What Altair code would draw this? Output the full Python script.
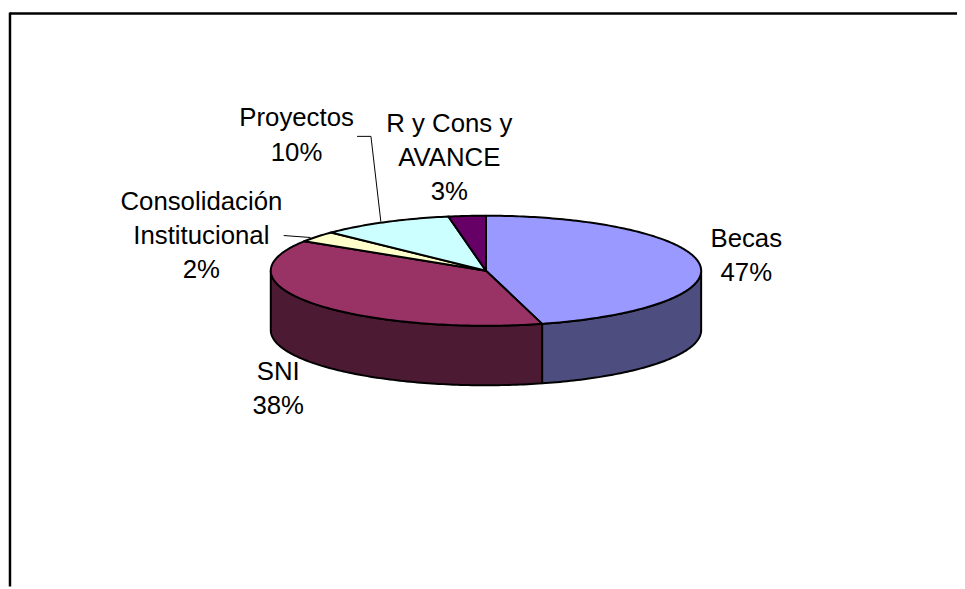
import math
import altair as alt
import pandas as pd

# Slices, clockwise from 12 o'clock, shares
slices = ["Becas", "SNI", "Consolidación Institucional", "Proyectos", "R y Cons y AVANCE"]
shares = [45.8, 38.2, 3.2, 10.0, 2.8]
top_colors = ["#9999FF", "#993366", "#FFFFCC", "#CCFFFF", "#660066"]
side_colors = ["#4D4D80", "#4D1A33", "#80805F", "#608080", "#330033"]

# Label lines: text, centre x, baseline y on the page
label_text = ["Proyectos", "10%", "R y Cons y", "AVANCE", "3%", "Consolidación",
              "Institucional", "2%", "SNI", "38%", "Becas", "47%"]
label_x = [299, 299, 453, 453, 453, 203, 203, 203, 280.5, 280.5, 752.5, 752.5]
label_y = [125, 159.5, 131, 165, 199.5, 209.5, 244, 277.5, 381, 415, 247, 281]

# Layout (page pixels)
PAGE_W, PAGE_H, MARGIN = 965, 589, 8
VIEW_W, VIEW_H = PAGE_W - MARGIN, PAGE_H - MARGIN
CX, CY, RX, RY, DEPTH = 490.0, 270.5, 217.0, 55.5, 60.0

x_scale = alt.Scale(domain=[(MARGIN - CX) / RX, (MARGIN + VIEW_W - CX) / RX], range=[0, VIEW_W],
                    nice=False, zero=False)
y_scale = alt.Scale(domain=[(CY - MARGIN) / RY, (CY - MARGIN - VIEW_H) / RY], range=[0, VIEW_H],
                    nice=False, zero=False)
depth_units = DEPTH / RY


def arc(a0, a1, dy=0.0):
    n = max(2, int(abs(a1 - a0)) + 1)
    pts = []
    for k in range(n + 1):
        t = math.radians(a0 + (a1 - a0) * k / n)
        pts.append((math.sin(t), math.cos(t) + dy))
    return pts


def shape(points, color, stroke_width=2):
    df = pd.DataFrame({"x": [p[0] for p in points], "y": [p[1] for p in points],
                       "i": list(range(len(points)))})
    return alt.Chart(df).mark_line(fill=color, stroke="black", strokeWidth=stroke_width,
                                   interpolate="linear-closed", strokeJoin="round").encode(
        x=alt.X("x:Q", scale=x_scale, axis=None),
        y=alt.Y("y:Q", scale=y_scale, axis=None),
        order="i:Q",
    )


layers = []
edges = [0.0]
for s in shares:
    edges.append(edges[-1] + s * 3.6)

# Walls (only the front half of the rim is visible)
for i in range(len(slices)):
    a0, a1 = max(edges[i], 90.0), min(edges[i + 1], 270.0)
    if a1 > a0:
        layers.append(shape(arc(a0, a1) + arc(a1, a0, -depth_units), side_colors[i]))

# Top faces
for i in range(len(slices)):
    layers.append(shape([(0.0, 0.0)] + arc(edges[i], edges[i + 1]), top_colors[i]))


def seg(x0, y0, x1, y1, w=1.0):
    return alt.Chart(pd.DataFrame({"a": [0]})).mark_rule(color="black", strokeWidth=w).encode(
        x=alt.value(x0 - MARGIN), x2=alt.value(x1 - MARGIN),
        y=alt.value(y0 - MARGIN), y2=alt.value(y1 - MARGIN))


# Frame
layers.append(seg(10, 11, MARGIN + VIEW_W, 11, 2.5))
layers.append(seg(10, 10, 10, MARGIN + VIEW_H, 2.5))

# Leader lines
layers.append(seg(360, 135, 374, 135))
layers.append(seg(374, 135, 384, 221))
layers.append(seg(286, 235, 313, 237))

labels_df = pd.DataFrame({"t": label_text, "px": [v - MARGIN for v in label_x],
                          "py": [v - MARGIN for v in label_y]})
layers.append(alt.Chart(labels_df).mark_text(font="Liberation Sans", fontSize=26, color="black",
                                             align="center", baseline="alphabetic").encode(
    x=alt.X("px:Q", scale=None), y=alt.Y("py:Q", scale=None), text="t:N"))

chart = alt.layer(*layers).properties(
    width=VIEW_W, height=VIEW_H, padding=0,
    autosize=alt.AutoSizeParams(type="none"), background="white",
).configure_view(stroke=None)

chart.save("out.html", embed_options={"renderer": "svg", "actions": False})
